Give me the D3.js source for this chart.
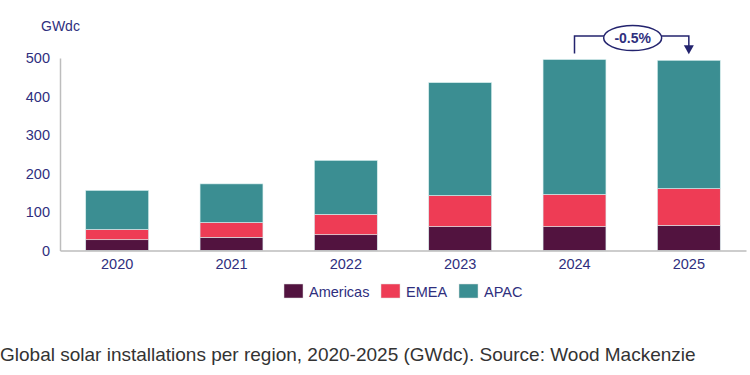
<!DOCTYPE html>
<html>
<head>
<meta charset="utf-8">
<script src="https://cdn.jsdelivr.net/npm/d3@7"></script>
<style>
  body { margin: 0; background: #fff; }
  svg { display: block; }
</style>
</head>
<body>
<div id="chart"></div>
<script>
// data (GWdc)
const years = ["2020", "2021", "2022", "2023", "2024", "2025"];
const regions = ["Americas", "EMEA", "APAC"];
const americas = [28, 34, 41, 62, 62, 65];
const emea = [27, 39, 53, 81, 84, 96];
const apac = [101, 100, 140, 293, 350, 333];
const yTicks = [0, 100, 200, 300, 400, 500];
const changeLabel = "-0.5%";

const colors = { Americas: "#52133f", EMEA: "#ee3c55", APAC: "#3b8e92" };
const textColor = "#2f2f7e";
const font = "Liberation Sans, Arial, sans-serif";

const width = 750, height = 375;
const margin = { top: 58, right: 4, bottom: 124, left: 60 };

const svg = d3.select("#chart").append("svg")
  .attr("width", width)
  .attr("height", height)
  .style("font-family", font);

const table = years.map((y, i) => ({
  year: y, Americas: americas[i], EMEA: emea[i], APAC: apac[i]
}));
const series = d3.stack().keys(regions)(table);

const x = d3.scaleBand()
  .domain(years)
  .range([margin.left, width - margin.right])
  .paddingInner(0.45)
  .paddingOuter(0.225);

const y = d3.scaleLinear()
  .domain([0, 500])
  .range([height - margin.bottom - 0.5, margin.top]);

// bars
svg.append("g").selectAll("g")
  .data(series)
  .join("g")
  .attr("fill", d => colors[d.key])
  .selectAll("rect")
  .data(d => d)
  .join("rect")
  .attr("x", d => x(d.data.year))
  .attr("width", x.bandwidth())
  .attr("y", d => y(d[1]))
  .attr("height", d => y(d[0]) - y(d[1]))
  .attr("stroke", "#d8eeee")
  .attr("stroke-width", 0.6);

// y axis
const yAxis = svg.append("g")
  .attr("transform", `translate(${margin.left},0)`)
  .call(d3.axisLeft(y).tickValues(yTicks).tickSize(0).tickPadding(10));
yAxis.select(".domain").attr("stroke", "#bdbdbd").attr("stroke-width", 1.5);
yAxis.selectAll("text")
  .attr("fill", textColor)
  .style("font-size", "14.5px")
  .style("font-family", font);

// x axis
const xAxis = svg.append("g")
  .attr("transform", `translate(0,${y(0)})`)
  .call(d3.axisBottom(x).tickSize(0).tickPadding(8));
xAxis.select(".domain").attr("stroke", "#bdbdbd").attr("stroke-width", 1.5);
xAxis.selectAll("text")
  .attr("fill", textColor)
  .style("font-size", "14.5px")
  .style("font-family", font);

// unit label
svg.append("text")
  .attr("x", 41).attr("y", 31)
  .attr("fill", textColor)
  .style("font-size", "14px")
  .text("GWdc");

// annotation bracket between 2024 and 2025
const totals = table.map(d => d.Americas + d.EMEA + d.APAC);
const x1 = x("2024") + x.bandwidth() / 2;
const x2 = x("2025") + x.bandwidth() / 2;
const topY = 36;
const cx = (x1 + x2) / 2 + 1;
const annColor = "#23236e";

svg.append("path")
  .attr("d", `M${x1},${y(totals[4]) - 6}V${topY}H${x2}V${y(totals[5]) - 14}`)
  .attr("fill", "none")
  .attr("stroke", annColor)
  .attr("stroke-width", 1.5);

svg.append("path")
  .attr("d", `M${x2 - 5},${y(totals[5]) - 15}L${x2 + 5},${y(totals[5]) - 15}L${x2},${y(totals[5]) - 6}Z`)
  .attr("fill", annColor);

svg.append("ellipse")
  .attr("cx", cx).attr("cy", topY + 2)
  .attr("rx", 29).attr("ry", 12.5)
  .attr("fill", "#fff")
  .attr("stroke", annColor)
  .attr("stroke-width", 1.5);

svg.append("text")
  .attr("x", cx).attr("y", topY + 7)
  .attr("text-anchor", "middle")
  .attr("fill", textColor)
  .style("font-size", "14px")
  .style("font-weight", "bold")
  .text(changeLabel);

// legend
const legendX = [284, 381, 459];
const legend = svg.append("g").selectAll("g")
  .data(regions)
  .join("g")
  .attr("transform", (d, i) => `translate(${legendX[i]},284)`);
legend.append("rect")
  .attr("width", 19).attr("height", 14)
  .attr("fill", d => colors[d])
  .attr("stroke", "#ddd")
  .attr("stroke-width", 0.5);
legend.append("text")
  .attr("x", 25).attr("y", 12.5)
  .attr("fill", textColor)
  .style("font-size", "14.5px")
  .text(d => d);

// caption
svg.append("text")
  .attr("x", 0).attr("y", 361)
  .attr("fill", "#333")
  .style("font-size", "19px")
  .text("Global solar installations per region, 2020-2025 (GWdc). Source: Wood Mackenzie");
</script>
</body>
</html>
